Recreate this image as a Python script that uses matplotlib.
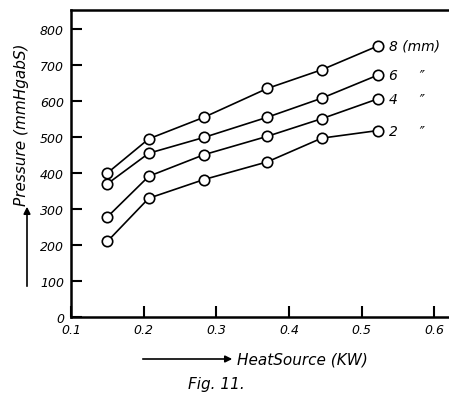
import matplotlib
matplotlib.use("Agg")
from matplotlib import pyplot as plt

# heat source (KW)
heat = [0.15, 0.207, 0.283, 0.37, 0.445, 0.522]

# pressure (mmHg abs) for each gap
p8 = [400, 495, 555, 635, 687, 753]
p6 = [370, 455, 499, 555, 608, 672]
p4 = [278, 391, 451, 502, 551, 606]
p2 = [210, 330, 382, 431, 497, 518]

series = [("8 (mm)", p8), ("6     \u2033", p6), ("4     \u2033", p4), ("2     \u2033", p2)]

xticks = [0.1, 0.2, 0.3, 0.4, 0.5, 0.6]
yticks = [0, 100, 200, 300, 400, 500, 600, 700, 800]

fig = plt.figure(figsize=(4.49, 4.02), dpi=100)
ax = fig.add_axes([71/449, 1-318/402, 1-71/449, (318-11)/402])

for lab, p in series:
    ax.plot(heat, p, color="black", lw=1.2, marker="o", ms=7.5,
            mfc="white", mec="black", mew=1.2, zorder=3, clip_on=False)
    ax.annotate(lab, (heat[-1], p[-1]), xytext=(8, 0), textcoords="offset points",
                va="center", ha="left", fontsize=10, style="italic")

ax.set_xlim(0.1, 0.62)
ax.set_ylim(0, 853)
ax.set_xticks(xticks)
ax.set_xticklabels([str(t) for t in xticks], style="italic", fontsize=9)
ax.set_yticks(yticks)
ax.set_yticklabels([str(t) for t in yticks], style="italic", fontsize=9)
ax.tick_params(direction="in", length=8, width=1.5)
ax.tick_params(axis="y", pad=5)
ax.tick_params(axis="x", pad=4)

ax.spines["right"].set_visible(False)
for s in ["left", "bottom", "top"]:
    ax.spines[s].set_linewidth(1.8)

# axis titles with arrows
fig.text(237/449, 1-360/402, "HeatSource (KW)", fontsize=11, style="italic",
         va="center", ha="left")
fig.add_artist(matplotlib.patches.FancyArrowPatch(
    (140/449, 1-360/402), (235/449, 1-360/402), transform=fig.transFigure,
    arrowstyle="-|>", mutation_scale=10, color="black", lw=1.2))
fig.text(216/449, 1-385/402, "Fig. 11.", fontsize=11, style="italic",
         va="center", ha="center")

fig.text(22/449, 1-125/402, "Pressure (mmHgabS)", fontsize=11, style="italic",
         rotation=90, va="center", ha="center")
fig.add_artist(matplotlib.patches.FancyArrowPatch(
    (27/449, 1-290/402), (27/449, 1-205/402), transform=fig.transFigure,
    arrowstyle="-|>", mutation_scale=10, color="black", lw=1.2))

fig.savefig("out.png", dpi=100)
